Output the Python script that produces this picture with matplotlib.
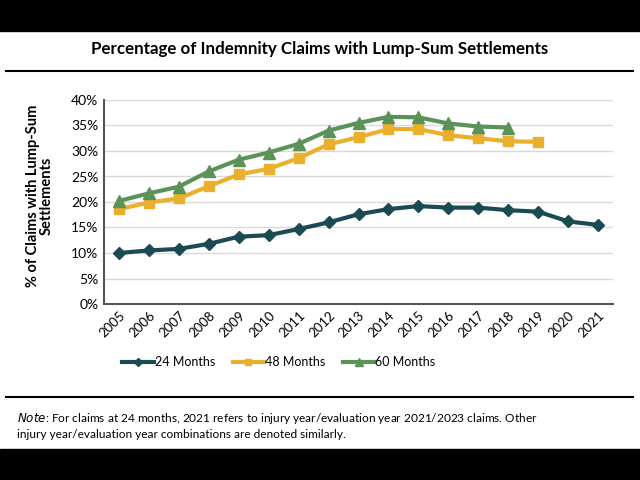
import numpy as np
import matplotlib
matplotlib.use("Agg")
import matplotlib.pyplot as plt
from matplotlib.patches import Rectangle
from matplotlib.lines import Line2D

# datos
years = [str(y) for y in range(2005, 2022)]
m24 = [10.0, 10.5, 10.8, 11.8, 13.2, 13.5, 14.7, 16.0, 17.6, 18.6, 19.2, 18.9, 18.9, 18.4, 18.1, 16.2, 15.5]
m48 = [18.6, 19.9, 20.7, 23.1, 25.4, 26.5, 28.6, 31.3, 32.7, 34.3, 34.3, 33.1, 32.5, 31.9, 31.8]
m60 = [20.2, 21.7, 23.0, 26.0, 28.3, 29.7, 31.4, 34.0, 35.5, 36.7, 36.6, 35.4, 34.8, 34.6]

plt.rcParams['font.family'] = ['Lato', 'DejaVu Sans']

fig = plt.figure(figsize=(6.4, 4.8), dpi=100)

# barras negras arriba y abajo
fig.patches.append(Rectangle((0, 1 - 31/480), 1, 31/480, transform=fig.transFigure, color="black", zorder=0))
fig.patches.append(Rectangle((0, 0), 1, 31/480, transform=fig.transFigure, color="black", zorder=0))

# lineas horizontales
fig.add_artist(Line2D([6/640, 633/640], [1 - 71/480] * 2, color="black", lw=1.5))
fig.add_artist(Line2D([6/640, 633/640], [1 - 397/480] * 2, color="black", lw=1.5))

fig.text(0.5, 1 - 49/480, "Percentage of Indemnity Claims with Lump-Sum Settlements",
         ha="center", va="center", fontsize=12.2, fontweight="bold")

ax = fig.add_axes([104/640, 1 - 304/480, (613 - 104)/640, (304 - 100)/480])
x = np.arange(len(years))
ax.plot(x[:len(m24)], np.array(m24) / 100, color="#1B4A52", lw=3, marker="D", ms=6.5, label="24 Months")
ax.plot(x[:len(m48)], np.array(m48) / 100, color="#EBAF2E", lw=3, marker="s", ms=7, label="48 Months")
ax.plot(x[:len(m60)], np.array(m60) / 100, color="#5A9258", lw=3, marker="^", ms=8, label="60 Months")

ax.set_xlim(-0.5, len(years) - 0.5)
ax.set_ylim(0, 0.40)
ax.set_yticks(np.arange(0, 0.41, 0.05))
ax.set_yticklabels([f"{int(round(v*100))}%" for v in np.arange(0, 0.41, 0.05)], fontsize=10)
ax.set_xticks(x)
ax.set_xticklabels(years, rotation=45, ha="right", rotation_mode="anchor", fontsize=9.5)
ax.tick_params(length=0, pad=4)
ax.grid(axis="y", color="#d9d9d9", lw=1)
ax.set_axisbelow(True)
for s in ["top", "right"]:
    ax.spines[s].set_visible(False)
for s in ["left", "bottom"]:
    ax.spines[s].set_color("#555555")
    ax.spines[s].set_linewidth(1.5)

fig.text(40/640, 1 - 196/480, "% of Claims with Lump-Sum\nSettlements", rotation=90,
         ha="center", va="center", fontsize=10.5, fontweight="bold", linespacing=1.0)

fig.legend(loc="center", bbox_to_anchor=(279/640, 1 - 362/480), ncol=3, frameon=False,
           fontsize=9, handlelength=2.5, handletextpad=0.1, columnspacing=1.4, markerscale=0.7)

fig.text(17/640, 1 - 418/480, r"$\it{Note}$: For claims at 24 months, 2021 refers to injury year/evaluation year 2021/2023 claims. Other",
         ha="left", va="center", fontsize=8.6)
fig.text(17/640, 1 - 434/480, "injury year/evaluation year combinations are denoted similarly.",
         ha="left", va="center", fontsize=8.6)

plt.savefig("out.png", dpi=100)
